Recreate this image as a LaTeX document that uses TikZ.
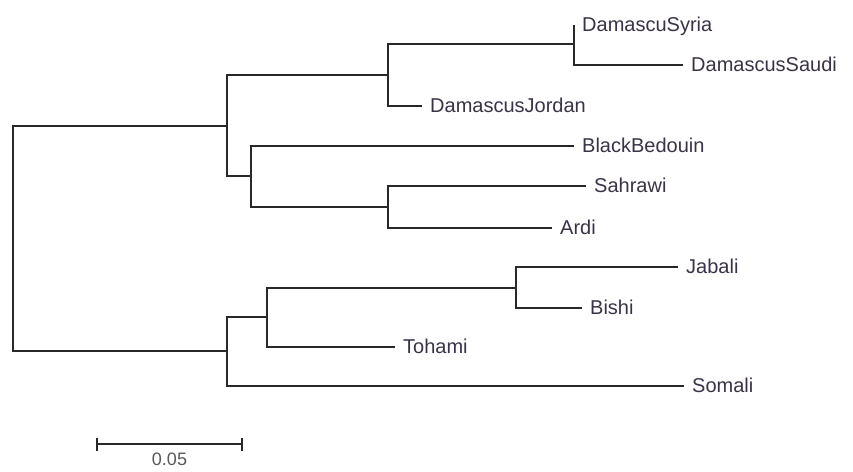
\documentclass[tikz,border=0pt]{standalone}
\usepackage{fontspec}
\setmainfont{Liberation Sans}
\definecolor{txt}{RGB}{58,50,70}
\definecolor{edge}{RGB}{40,40,40}
\begin{document}
\begin{tikzpicture}[x=1pt,y=-1pt,
  br/.style={draw=edge,line width=1.3pt},
  leaf/.style={anchor=west,inner xsep=8pt,inner ysep=0pt,text height=15pt,text depth=3pt,
    text=txt,font=\fontsize{20}{24}\selectfont},
  scalelbl/.style={text=black!65,font=\fontsize{18}{22}\selectfont}]
\useasboundingbox (0,0) rectangle (853,471);
% internal nodes
\coordinate (root) at (13,238.5);
\coordinate (A) at (227,126);
\coordinate (C) at (388,75);
\coordinate (E) at (574,44);
\coordinate (D) at (251,176);
\coordinate (F) at (388,207);
\coordinate (B) at (227,351);
\coordinate (G) at (267,317);
\coordinate (H) at (516,288);
% leaves
\node[leaf] (syr) at (574,25) {DamascuSyria};
\node[leaf] (sau) at (683,65) {DamascusSaudi};
\node[leaf] (jor) at (422,106) {DamascusJordan};
\node[leaf] (bb) at (574,146) {BlackBedouin};
\node[leaf] (sah) at (586,186) {Sahrawi};
\node[leaf] (ard) at (552,228) {Ardi};
\node[leaf] (jab) at (678,267) {Jabali};
\node[leaf] (bis) at (582,308) {Bishi};
\node[leaf] (toh) at (395,347) {Tohami};
\node[leaf] (som) at (684,386) {Somali};
% branches
\draw[br] (root) |- (A);
\draw[br] (root) |- (B);
\draw[br] (A) |- (C);
\draw[br] (A) |- (D);
\draw[br] (C) |- (E);
\draw[br] (C) |- (jor.west);
\draw[br] (E) |- (syr.west);
\draw[br] (E) |- (sau.west);
\draw[br] (D) |- (bb.west);
\draw[br] (D) |- (F);
\draw[br] (F) |- (sah.west);
\draw[br] (F) |- (ard.west);
\draw[br] (B) |- (G);
\draw[br] (B) |- (som.west);
\draw[br] (G) |- (H);
\draw[br] (G) |- (toh.west);
\draw[br] (H) |- (jab.west);
\draw[br] (H) |- (bis.west);
% scale bar
\coordinate (s1) at (97,444);
\coordinate (s2) at (242,444);
\draw[br] (s1) -- (s2);
\draw[br] ([yshift=-7pt]s1) -- ([yshift=6pt]s1);
\draw[br] ([yshift=-7pt]s2) -- ([yshift=6pt]s2);
\node[scalelbl,anchor=base] (sl) at (169.5,465) {0.05};
\end{tikzpicture}
\end{document}
